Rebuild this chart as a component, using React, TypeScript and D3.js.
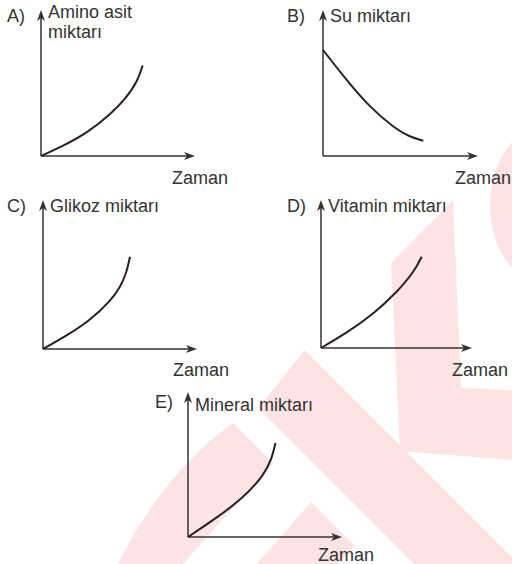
import React from "react";
import * as d3 from "d3";

// Panel letters, axis titles and the shared time-axis label
const panelLetters = ["A)", "B)", "C)", "D)", "E)"];
const panelTitles = [["Amino asit", "miktarı"], ["Su miktarı"], ["Glikoz miktarı"], ["Vitamin miktarı"], ["Mineral miktarı"]];
const timeLabel = "Zaman";

// Curve samples per panel (time vs. amount, arbitrary units 0-10)
const aminoTime = [0, 1.5, 3, 4.5, 5.5, 6.2, 6.6];
const aminoAmount = [0, 0.75, 1.65, 2.9, 4.0, 5.1, 6.2];
const suTime = [0, 1.5, 3, 4.5, 5.6, 6.47];
const suAmount = [7.26, 5.25, 3.45, 2.05, 1.35, 1.05];
const glikozTime = [0, 1.5, 3, 4.3, 5.0, 5.4, 5.65];
const glikozAmount = [0, 0.9, 1.95, 3.2, 4.2, 5.15, 6.19];
const vitaminTime = [0, 1.7, 3.46, 5.0, 6.1, 6.67];
const vitaminAmount = [0, 1.05, 2.35, 3.8, 5.15, 6.17];
const mineralTime = [0, 1.8, 3.5, 4.8, 5.4, 5.68];
const mineralAmount = [0, 1.3, 2.7, 4.2, 5.4, 6.48];

const seriesTime = [aminoTime, suTime, glikozTime, vitaminTime, mineralTime];
const seriesAmount = [aminoAmount, suAmount, glikozAmount, vitaminAmount, mineralAmount];

// Panel frames: axis origin, axis ends, label anchors
const frames = [
  { x0: 41, y0: 156, x1: 195, y1: 10, lx: 7, ly: 22, tx: 48, ty: 18, zx: 172, zy: 184 },
  { x0: 323, y0: 156, x1: 478, y1: 10, lx: 287, ly: 22, tx: 330, ty: 22, zx: 455, zy: 184 },
  { x0: 43, y0: 349, x1: 197, y1: 200, lx: 7, ly: 212, tx: 50, ty: 212, zx: 173, zy: 376 },
  { x0: 321, y0: 348, x1: 472, y1: 200, lx: 287, ly: 212, tx: 328, ty: 212, zx: 452, zy: 376 },
  { x0: 188, y0: 537, x1: 342, y1: 392, lx: 155, ly: 408, tx: 195, ty: 411, zx: 318, zy: 561 },
];

const AXIS = "#363233";
const CURVE = "#2b1f20";
const TEXT = "#333333";
const FONT = "'Liberation Sans', Arial, Helvetica, sans-serif";
const WM = "#fde4e4";

function arrowRight(x: number, y: number) {
  return `M${x},${y} L${x - 11},${y - 4} L${x - 8},${y} L${x - 11},${y + 4} Z`;
}
function arrowUp(x: number, y: number) {
  return `M${x},${y} L${x - 4},${y + 11} L${x},${y + 8} L${x + 4},${y + 11} Z`;
}

function Panel({ i }: { i: number }) {
  const f = frames[i];
  const x = d3.scaleLinear().domain([0, 10]).range([f.x0, f.x1]);
  const y = d3.scaleLinear().domain([0, 10]).range([f.y0, f.y1]);
  const pts = seriesTime[i].map((t, k) => [t, seriesAmount[i][k]] as [number, number]);
  const line = d3
    .line<[number, number]>()
    .x((d) => x(d[0]))
    .y((d) => y(d[1]))
    .curve(d3.curveNatural);
  const [xa, xb] = x.range();
  const [ya, yb] = y.range();
  return (
    <g>
      <line x1={xa} y1={ya} x2={xb - 4} y2={ya} stroke={AXIS} strokeWidth={1.5} />
      <line x1={xa} y1={ya} x2={xa} y2={yb + 4} stroke={AXIS} strokeWidth={1.5} />
      <path d={arrowRight(xb, ya)} fill={AXIS} />
      <path d={arrowUp(xa, yb)} fill={AXIS} />
      <path d={line(pts) || ""} fill="none" stroke={CURVE} strokeWidth={2} strokeLinecap="butt" />
      <text x={f.lx} y={f.ly} fontSize={18} fill={TEXT} fontFamily={FONT}>
        {panelLetters[i]}
      </text>
      <text x={f.tx} y={f.ty} fontSize={18} fill={TEXT} fontFamily={FONT}>
        {panelTitles[i].map((s, k) => (
          <tspan key={k} x={f.tx} dy={k === 0 ? 0 : 20}>
            {s}
          </tspan>
        ))}
      </text>
      <text x={f.zx} y={f.zy} fontSize={18} fill={TEXT} fontFamily={FONT}>
        {timeLabel}
      </text>
    </g>
  );
}

export default function App() {
  return (
    <svg
      width={512}
      height={564}
      viewBox="0 0 512 564"
      style={{ position: "absolute", left: 0, top: 0, display: "block", background: "#fff" }}
    >
      <rect width={512} height={564} fill="#fff" />
      {/* faint background watermark */}
      <g fill={WM}>
        <polygon points="305,350 512,557 512,564 414,564 258,408" />
        <polygon points="391,263 453,200 461,388 512,390 512,460 400,451" />
        <ellipse cx={548} cy={205} rx={58} ry={80} />
        <path d="M233,423 L273,463 L183,564 L118,564 Q164,472 233,423 Z" />
        <polygon points="311,502 355,546 337,564 257,564" />
      </g>
      {frames.map((_, i) => (
        <Panel key={i} i={i} />
      ))}
    </svg>
  );
}
